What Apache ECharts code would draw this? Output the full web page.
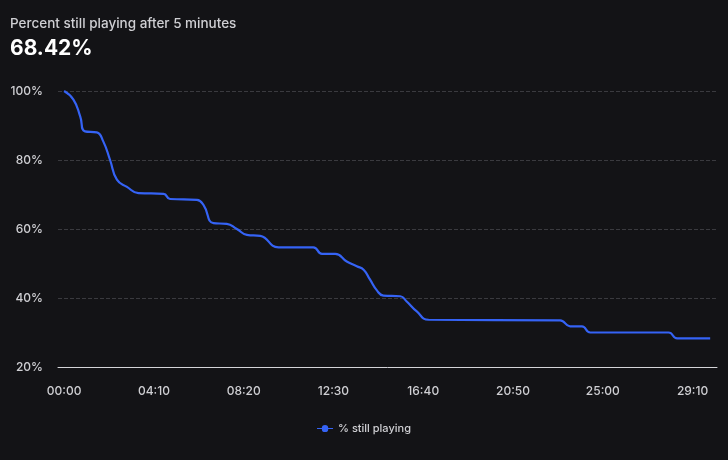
<!DOCTYPE html>
<html>
<head>
<meta charset="utf-8">
<script src="https://cdn.jsdelivr.net/npm/echarts@6/dist/echarts.min.js"></script>
<style>
    html, body { margin: 0; padding: 0; background: #131316; }
    #e1 { width: 728px; height: 460px; }
</style>
</head>
<body>
<div id="e1"></div>
<script>
// seconds since start
var timeSec = [0, 26, 45, 58, 91, 109, 128, 147, 175, 207, 277, 295, 370, 388, 416, 453, 481, 509, 546,
    597, 694, 718, 755, 787, 815, 834, 852, 871, 889, 936, 954, 982, 1015, 1381, 1409, 1442, 1465, 1683, 1707, 1799];
// % still playing
var pctPlaying = [100, 97.5, 92.6, 88.3, 88, 85.4, 80, 74.3, 72.2, 70.4, 70.2, 68.7, 68.42, 67, 61.7, 61.5, 60, 58.3, 58,
    54.7, 54.7, 52.8, 52.8, 50.6, 49.2, 48.2, 45.3, 42.2, 40.7, 40.5, 39, 36.1, 33.7, 33.5, 31.8, 31.8, 30, 30, 28.3, 28.3];
// x tick labels (seconds)
var xTicks = [0, 250, 500, 750, 1000, 1250, 1500, 1750];
var yTicks = [20, 40, 60, 80, 100];
var titleText = 'Percent still playing after 5 minutes';
var headline = '68.42%';
var seriesName = '% still playing';

var e1 = echarts.init(document.getElementById('e1'));
var points = [];
for (var i = 0; i < timeSec.length; i++) {
    points.push([timeSec[i], pctPlaying[i]]);
}
function pad(n) {
    return n < 10 ? '0' + n : '' + n;
}
var fontFam = 'Inter, "Noto Sans", sans-serif';
var option1 = {
    backgroundColor: '#131316',
    textStyle: { fontFamily: fontFam },
    title: [{
        text: titleText,
        left: 5,
        top: 12,
        textStyle: { fontSize: 13.5, fontWeight: 500, color: '#cfcfd3', fontFamily: fontFam }
    }, {
        text: headline,
        left: 5,
        top: 33,
        textStyle: { fontSize: 21, fontWeight: 'bold', color: '#ffffff', fontFamily: fontFam }
    }],
    legend: {
        bottom: 21,
        left: 'center',
        itemWidth: 16,
        itemHeight: 8,
        itemGap: 6,
        textStyle: { color: '#cfcfd3', fontSize: 11, fontWeight: 500, fontFamily: fontFam },
        data: [{ name: seriesName, icon: 'path://M0,4 L6,4 A4,4 0 1,1 14,4 L20,4 L20,5 L14,5 A4,4 0 1,1 6,5 L0,5 Z' }]
    },
    grid: { left: 58, right: 11, top: 91, bottom: 93 },
    xAxis: {
        type: 'value',
        min: -17,
        max: 1818,
        splitLine: { show: false },
        axisTick: { show: false },
        axisLine: { show: true, lineStyle: { color: '#d4d4d8', width: 1 } },
        axisLabel: {
            customValues: xTicks,
            margin: 18,
            color: '#cfcfd3',
            fontSize: 12,
            fontWeight: 500,
            fontFamily: fontFam,
            formatter: function (v) {
                return pad(Math.floor(v / 60)) + ':' + pad(v % 60);
            }
        }
    },
    yAxis: {
        type: 'value',
        min: yTicks[0],
        max: yTicks[yTicks.length - 1],
        interval: 20,
        axisLine: { show: false },
        axisTick: { show: false },
        splitLine: { show: true, lineStyle: { color: '#3a3a3f', type: 'dashed' } },
        axisLabel: {
            margin: 15,
            color: '#cfcfd3',
            fontSize: 12,
            fontWeight: 500,
            fontFamily: fontFam,
            formatter: '{value}%'
        }
    },
    series: [{
        name: seriesName,
        type: 'line',
        data: points,
        smooth: 0.5,
        showSymbol: false,
        symbol: 'circle',
        color: '#3563f5',
        lineStyle: { width: 2.2, color: '#3563f5' }
    }]
};
e1.setOption(option1);
</script>
</body>
</html>
